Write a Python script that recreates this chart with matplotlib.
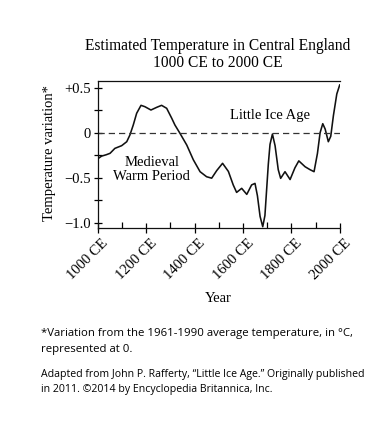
import matplotlib
matplotlib.use("Agg")
import matplotlib.pyplot as plt
import matplotlib.transforms as mtransforms
from matplotlib.ticker import MultipleLocator

years = [1000, 1016, 1035, 1051, 1071, 1099, 1120, 1133, 1147, 1161, 1179, 1195,
         1220, 1244, 1264, 1285, 1306, 1319, 1340, 1368, 1395, 1423, 1450, 1471,
         1492, 1516, 1540, 1560, 1574, 1595, 1616, 1636, 1650, 1660, 1671, 1682,
         1691, 1705, 1712, 1722, 1733, 1746, 1756, 1774, 1795, 1815, 1831, 1857,
         1877, 1894, 1908, 1919, 1930, 1940, 1953, 1963, 1974, 1988, 2000]
temps = [-0.29, -0.26, -0.245, -0.229, -0.174, -0.144, -0.10, -0.026, 0.086, 0.216,
         0.304, 0.289, 0.252, 0.282, 0.304, 0.271, 0.16, 0.086, -0.007, -0.137,
         -0.30, -0.433, -0.489, -0.505, -0.42, -0.34, -0.43, -0.58, -0.663, -0.618,
         -0.685, -0.58, -0.563, -0.70, -0.93, -1.044, -0.92, -0.35, -0.13, -0.015,
         -0.145, -0.41, -0.507, -0.433, -0.52, -0.39, -0.313, -0.378, -0.41, -0.433,
         -0.23, 0.0, 0.10, 0.04, -0.10, -0.04, 0.19, 0.43, 0.53]

x_ticks = [1000, 1200, 1400, 1600, 1800, 2000]
x_tick_labels = ["1000 CE", "1200 CE", "1400 CE", "1600 CE", "1800 CE", "2000 CE"]
y_ticks = [-1.0, -0.5, 0.0, 0.5]
y_tick_labels = ["\u22121.0", "\u22120.5", "0", "+0.5"]

title_lines = ["Estimated Temperature in Central England", "1000 CE to 2000 CE"]
x_label = "Year"
y_label = "Temperature variation*"
annot_lia = "Little Ice Age"
annot_mwp = "Medieval\nWarm Period"
footnote1 = "*Variation from the 1961-1990 average temperature, in \u00b0C,\nrepresented at 0."
footnote2 = ("Adapted from John P. Rafferty, \u201cLittle Ice Age.\u201d Originally published\n"
             "in 2011. \u00a92014 by Encyclopedia Britannica, Inc.")

SERIF = ["Liberation Serif", "DejaVu Serif"]
SANS = ["Open Sans", "DejaVu Sans"]

W, H = 392, 447
fig = plt.figure(figsize=(W / 100, H / 100), dpi=100)
fig.patch.set_facecolor("white")

left, right, top, bottom = 97.7, 339.7, 81.3, 228.5
ax = fig.add_axes([left / W, 1 - bottom / H, (right - left) / W, (bottom - top) / H])
ax.set_xlim(1000, 2000)
ax.set_ylim(-1.064, 0.571)

ax.plot(years, temps, color="#111111", lw=1.15, solid_joinstyle="round")
ax.axhline(0, color="#333333", lw=0.9, dashes=(5, 3.2))

ax.spines["right"].set_visible(False)
for s in ["left", "bottom", "top"]:
    ax.spines[s].set_linewidth(0.9)
    ax.spines[s].set_color("#111111")

ax.set_xticks(x_ticks)
ax.set_xticklabels(x_tick_labels, rotation=45, ha="right", va="top",
                   rotation_mode="anchor", fontfamily=SERIF, fontsize=10.5)
ax.xaxis.set_minor_locator(MultipleLocator(100))
ax.set_yticks(y_ticks)
ax.set_yticklabels(y_tick_labels, fontfamily=SERIF, fontsize=10.5)
ax.yaxis.set_minor_locator(MultipleLocator(0.25))
ax.tick_params(axis="x", which="major", direction="inout", length=7, width=0.9, pad=2.5)
ax.tick_params(axis="x", which="minor", direction="in", length=4, width=0.9)
ax.tick_params(axis="y", which="both", direction="inout", length=6, width=0.9, pad=2)
offset = mtransforms.ScaledTranslation(4 / 100, 0, fig.dpi_scale_trans)
for lab in ax.get_xticklabels():
    lab.set_transform(lab.get_transform() + offset)

ax.text(1712, 0.186, annot_lia, ha="center", va="center", fontfamily=SERIF, fontsize=10.5)
ax.text(1224, -0.41, annot_mwp, ha="center", va="center", fontfamily=SERIF,
        fontsize=10.5, linespacing=1.05)

fig.text(218 / W, 1 - 45.7 / H, title_lines[0], ha="center", va="center",
         fontfamily=SERIF, fontsize=11.2)
fig.text(218 / W, 1 - 63.3 / H, title_lines[1], ha="center", va="center",
         fontfamily=SERIF, fontsize=11.2)
fig.text(218 / W, 1 - 298 / H, x_label, ha="center", va="center",
         fontfamily=SERIF, fontsize=10.5)
fig.text(50 / W, 1 - 153 / H, y_label, ha="center", va="center", rotation=90,
         fontfamily=SERIF, fontsize=10.5)

fig.text(40.7 / W, 1 - 341.7 / H, footnote1, ha="left", va="center",
         fontfamily=SANS, fontsize=8.2, linespacing=1.6)
fig.text(40.7 / W, 1 - 382.2 / H, footnote2, ha="left", va="center",
         fontfamily=SANS, fontsize=7.6, linespacing=1.45)

fig.savefig("out.png", dpi=100, facecolor="white")
